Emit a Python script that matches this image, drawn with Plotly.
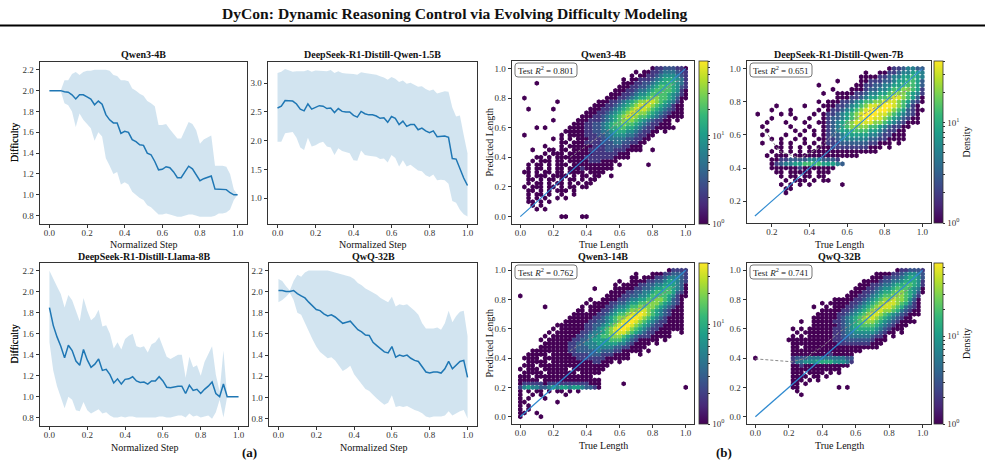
import math
import plotly.graph_objects as go

W, H = 985, 469
SERIF = "Liberation Serif, Times New Roman, serif"
BLUE = "#1f77b4"
BAND = "rgba(31,119,180,0.2)"


def px(x):
    return x / W


def py(y):
    return 1 - y / H


# ---------------- (a) difficulty curves ----------------
STEP = [round(i * 0.02, 2) for i in range(51)]

Q4_MEAN = [2.00, 2.00, 2.00, 2.00, 1.99, 1.985, 1.96, 1.92, 1.96, 1.96,
           1.94, 1.92, 1.865, 1.90, 1.87, 1.77, 1.72, 1.69, 1.69, 1.59,
           1.61, 1.60, 1.53, 1.51, 1.48, 1.475, 1.40, 1.385, 1.32, 1.24,
           1.245, 1.27, 1.26, 1.22, 1.165, 1.165, 1.22, 1.275, 1.25, 1.19,
           1.135, 1.155, 1.17, 1.18, 1.055, 1.055, 1.055, 1.05, 1.02, 1.00,
           1.00]
Q4_UP = [2.00, 2.00, 2.00, 2.00, 2.10, 2.10, 2.16, 2.18, 2.15, 2.18,
         2.19, 2.19, 2.20, 2.20, 2.20, 2.20, 2.19, 2.15, 2.14, 2.10,
         2.10, 2.09, 2.02, 2.00, 1.97, 1.95, 1.90, 1.88, 1.85, 1.67,
         1.67, 1.68, 1.63, 1.58, 1.54, 1.54, 1.62, 1.70, 1.68, 1.62,
         1.49, 1.53, 1.55, 1.57, 1.28, 1.28, 1.28, 1.27, 1.20, 1.05,
         1.00]
Q4_LO = [2.00, 2.00, 2.00, 2.00, 1.88, 1.86, 1.80, 1.65, 1.78, 1.72,
         1.68, 1.64, 1.52, 1.60, 1.56, 1.35, 1.28, 1.20, 1.22, 1.10,
         1.12, 1.10, 1.03, 1.00, 0.97, 0.95, 0.90, 0.88, 0.84, 0.81,
         0.81, 0.82, 0.81, 0.80, 0.79, 0.79, 0.80, 0.81, 0.81, 0.80,
         0.79, 0.79, 0.79, 0.79, 0.80, 0.82, 0.82, 0.83, 0.86, 0.95,
         1.00]

D15_MEAN = [2.57, 2.60, 2.70, 2.69, 2.69, 2.64, 2.55, 2.52, 2.64, 2.55,
            2.58, 2.61, 2.60, 2.56, 2.57, 2.49, 2.56, 2.51, 2.50, 2.50,
            2.44, 2.41, 2.51, 2.47, 2.45, 2.45, 2.43, 2.39, 2.40, 2.32,
            2.42, 2.39, 2.28, 2.34, 2.25, 2.28, 2.28, 2.19, 2.22, 2.17,
            2.14, 2.17, 2.07, 2.08, 2.08, 2.06, 1.69, 1.68, 1.50, 1.35,
            1.22]
D15_UP = [3.18, 3.20, 3.25, 3.22, 3.20, 3.21, 3.21, 3.21, 3.23, 3.20,
          3.22, 3.22, 3.22, 3.21, 3.23, 3.18, 3.21, 3.18, 3.17, 3.17,
          3.16, 3.15, 3.19, 3.18, 3.17, 3.16, 3.15, 3.12, 3.10, 3.06,
          3.11, 3.08, 3.02, 3.05, 2.99, 3.01, 2.98, 2.94, 2.95, 2.90,
          2.87, 2.89, 2.82, 2.84, 2.86, 2.85, 2.58, 2.42, 2.44, 2.10,
          1.78]
D15_LO = [1.98, 1.98, 2.13, 2.14, 2.15, 2.05, 1.88, 1.84, 2.05, 1.90,
          1.92, 1.96, 1.98, 1.90, 1.88, 1.75, 1.87, 1.82, 1.80, 1.78,
          1.66, 1.65, 1.83, 1.75, 1.74, 1.73, 1.72, 1.68, 1.69, 1.62,
          1.75, 1.70, 1.55, 1.66, 1.55, 1.58, 1.53, 1.48, 1.47, 1.40,
          1.37, 1.41, 1.31, 1.32, 1.31, 1.25, 0.95, 0.92, 0.80, 0.72,
          0.68]

L8_MEAN = [1.85, 1.68, 1.57, 1.48, 1.37, 1.49, 1.44, 1.34, 1.30, 1.45,
           1.35, 1.28, 1.31, 1.36, 1.25, 1.26, 1.21, 1.13, 1.17, 1.12,
           1.165, 1.17, 1.19, 1.15, 1.135, 1.14, 1.12, 1.15, 1.15, 1.19,
           1.15, 1.09, 1.085, 1.095, 1.10, 1.10, 1.03, 1.11, 1.06, 1.07,
           1.03, 1.07, 1.10, 1.14, 1.03, 1.00, 1.12, 1.00, 1.00, 1.00,
           1.00]
L8_UP = [2.20, 2.12, 2.05, 1.98, 1.85, 1.97, 1.92, 1.82, 1.72, 1.94,
         1.82, 1.73, 1.76, 1.83, 1.67, 1.68, 1.60, 1.46, 1.52, 1.45,
         1.55, 1.58, 1.60, 1.48, 1.47, 1.48, 1.42, 1.50, 1.52, 1.57,
         1.48, 1.38, 1.36, 1.38, 1.40, 1.40, 1.18, 1.38, 1.28, 1.30,
         1.20, 1.33, 1.40, 1.48, 1.21, 1.05, 1.44, 1.00, 1.00, 1.00,
         1.00]
L8_LO = [1.52, 1.25, 1.10, 1.00, 0.89, 1.00, 0.97, 0.87, 0.86, 0.95,
         0.87, 0.84, 0.86, 0.88, 0.84, 0.85, 0.82, 0.80, 0.80, 0.81,
         0.80, 0.81, 0.81, 0.80, 0.80, 0.80, 0.80, 0.80, 0.80, 0.81,
         0.81, 0.80, 0.80, 0.81, 0.82, 0.82, 0.80, 0.84, 0.81, 0.82,
         0.80, 0.81, 0.82, 0.79, 0.85, 0.97, 0.80, 1.00, 1.00, 1.00,
         1.00]

QWQ_MEAN = [2.01, 2.01, 2.00, 2.00, 2.01, 1.98, 1.96, 1.94, 1.90, 1.86,
            1.83, 1.82, 1.79, 1.77, 1.78, 1.76, 1.73, 1.70, 1.71, 1.72,
            1.68, 1.64, 1.62, 1.59, 1.585, 1.52, 1.49, 1.46, 1.43, 1.42,
            1.48, 1.38, 1.40, 1.39, 1.40, 1.37, 1.35, 1.34, 1.29, 1.24,
            1.23, 1.24, 1.24, 1.23, 1.27, 1.34, 1.27, 1.31, 1.34, 1.35,
            1.19]
QWQ_UP = [2.12, 2.10, 2.05, 2.01, 2.10, 2.16, 2.14, 2.18, 2.20, 2.20,
          2.20, 2.20, 2.20, 2.20, 2.19, 2.18, 2.17, 2.16, 2.15, 2.14,
          2.12, 2.08, 2.06, 2.03, 2.01, 1.99, 1.97, 1.94, 1.92, 1.90,
          1.95, 1.86, 1.88, 1.87, 1.88, 1.85, 1.82, 1.78, 1.70, 1.65,
          1.65, 1.65, 1.66, 1.64, 1.70, 1.82, 1.71, 1.77, 1.81, 1.82,
          1.58]
QWQ_LO = [1.90, 1.92, 1.95, 1.99, 1.92, 1.80, 1.78, 1.70, 1.62, 1.55,
          1.48, 1.43, 1.40, 1.37, 1.38, 1.35, 1.30, 1.25, 1.27, 1.30,
          1.22, 1.17, 1.12, 1.08, 1.06, 1.02, 0.99, 0.96, 0.93, 0.95,
          1.02, 0.91, 0.92, 0.91, 0.92, 0.90, 0.88, 0.87, 0.85, 0.82,
          0.81, 0.82, 0.82, 0.82, 0.83, 0.87, 0.83, 0.85, 0.87, 0.88,
          0.80]

# ---------------- (b) predicted vs true length (hexbin density read as grid) ----------------
# rows from y=1.000 down to y=0.000 (step 0.025), columns x=0.000..1.000 (step 0.025)
# '.' empty, digits = density level (see LEVEL_COUNTS)
LEVEL_COUNTS = [0, 1, 2, 3, 5, 8, 13, 20, 32, 50]
CELL = 0.025

GRID_Q4 = [
    "..........|..........|..........|..12233322|1",
    "..........|..........|........1.|1122344432|2",
    "..........|..........|.......1.1|1223455543|2",
    "..........|..........|.....1.112|2234566654|2",
    "....1.....|..........|.....11122|3345667654|2",
    "..........|..........|....111223|3456777653|2",
    "..........|..........|...1112234|4567777652|1",
    "..........|..........|..11122345|5677776542|1",
    ".1........|..........|.111223456|6788776531|1",
    ".........1|.........1|1122345678|8998765421|.",
    "..........|........11|1223456789|9987654211|.",
    "..1.....1.|.......111|2234567899|9876543211|.",
    "..........|......1112|2345678998|8765432111|.",
    "..........|.....11122|3456789987|7654321111|.",
    "........1.|....111222|3456788876|5432211.1.|.",
    "..........|...1112233|4567787765|4322111...|.",
    "....1.1...|..11112233|4566776654|32211111..|.",
    "..........|.111112233|4456665543|2211.1....|.",
    ".1........|1.11112223|3445554432|211.......|.",
    "........1.|1.1.111222|3344443322|11........|.",
    "..........|11.1112222|3334433221|1.........|.",
    "......1...|1.11111122|2333322111|..........|.",
    "...1...11.|11.1111222|2332221111|..1.......|.",
    "......1.11|1.11111122|2222111...|..........|.",
    "....11.1.1|1111112222|2221111...|..........|.",
    "...1.111.1|1.11111222|1111......|..........|.",
    "..1.11.1.1|11.1111111|111.1.....|.1........|.",
    "..1.11.1.1|1.11121111|111.......|..........|.",
    ".11.1.11.1|1.1111.111|1.........|..........|.",
    "..1.111.11|11.1.11.11|..1.......|..........|.",
    "..11.1.11.|1.11.1.11.|..........|..........|.",
    "..1.11.1.1|1.1.1.11..|..........|..........|.",
    ".1.111.11.|1.11.11...|..........|..........|.",
    "..11.1.1.1|11.1......|..........|..........|.",
    "..1.11.1..|1..1......|..........|..........|.",
    "..1.1.1..1|.1........|..........|..........|.",
    "..11.1.1..|..........|..........|..........|.",
    "...1.1....|..........|..........|..........|.",
    "....1.1...|..........|..........|..........|.",
    "..........|..........|..........|..........|.",
    "..........|11...11...|..........|..........|.",
]

GRID_D7 = [
    "..........|..........|..........|...1223443|3",
    "..........|..........|........1.|.112234455|4",
    "..........|..........|.......111|1223445565|4",
    "..........|..........|..1....112|2233455665|3",
    "..........|........1.|......1122|3344556665|3",
    "..........|..........|.1...11123|3445667765|2",
    "..........|.........1|..11112234|4556777654|2",
    "..........|..........|..11122345|5667887653|1",
    "..........|........1.|1112234566|7788876532|1",
    ".........1|.....1...1|1122345678|8899876421|.",
    "........1.|..1.....1.|1223456789|9998765321|1",
    ".....1....|1.1....1.1|2234567899|9887654321|.",
    "........1.|...1..1..1|2334567899|8876543211|.",
    ".......1..|.1...1..11|2345678888|7765432111|.",
    "......1...|..1...1..1|2345677776|65432211..|.",
    ".......1..|...1.1.1.1|2345566665|5432211...|.",
    "......1...|.1..1..1.1|2334555554|4322111...|.",
    "........1.|1..1.1..11|2234444443|3221111...|.",
    "......1...|1.1..1.1.1|2223333332|2111.1....|.",
    ".........1|1.1.1.1.11|1222222221|11.1......|.",
    "........1.|1.1.1.1111|1111111111|1.........|.",
    ".......1.1|11.1111111|1111111...|..........|.",
    "........11|2233334443|332.......|..........|.",
    "........12|3445566665|5543......|..........|.",
    "........11|1111211111|11........|..........|.",
    ".........1|1.11111.11|1.........|..........|.",
    "..........|1.11.11.11|..........|..........|.",
    "..........|.1.111.1.1|1.........|..........|.",
    "..........|1.1.1.1...|...1......|..........|.",
    "..........|.11.......|..........|..........|.",
    "..........|.1........|..........|..........|.",
]

GRID_Q14 = [
    "..........|..........|..........|......1222|2",
    "..........|..........|........1.|..11122333|2",
    "..........|..........|.......11.|1112234443|2",
    "..........|..........|....1..111|1223345543|2",
    "..........|..........|...1.11112|2334455543|1",
    "..........|........1.|...1111122|3345566543|1",
    "..........|..........|..11112233|4456666532|1",
    "1.........|..........|.111122334|4566665421|1",
    "..........|.......1..|1111223445|5667765321|.",
    "..........|......1.11|1122334556|6777654321|.",
    "......1...|.....1.111|1223445667|7776543211|.",
    "..........|....11.111|2234556778|8765432111|.",
    "..........|...1111112|2345667889|8765432111|.",
    "..........|..11111122|3456778998|7654321111|.",
    "..........|.111111223|3456789987|6543221111|.",
    ".........1|1111112233|4567899876|5432211111|.",
    "........1.|1111112234|5678998765|4322111111|.",
    ".......1.1|1111122344|5678887654|3221111..1|.",
    "......1.11|1111223445|6677765432|2211111...|.",
    ".....1.111|1112233455|5566654321|1111.1....|.",
    "......1111|1122334445|5555443211|11.1......|.",
    ".....11111|1122333444|4443322111|1.........|.",
    "...1111111|1122333334|3332211111|.1........|.",
    "..11111.11|1112222333|2221111..1|..........|.",
    ".1111.1111|1111222222|2111111...|..........|.",
    "..11111.11|1111111122|111.1.....|..........|.",
    ".111.11111|1111111111|11........|..........|.",
    "1.111.1111|11.1111111|1.........|..........|.",
    ".11111.111|1111.11111|..........|..........|.",
    "111.111111|11111111..|..........|..........|.",
    "11111.1111|1111111111|..........|..........|.",
    "1222221222|2222222111|.....1....|..........|.",
    "2454433454|5545543321|..........|..........|1",
    "1.1.11.1.1|1.1.1.....|..........|..........|.",
    "1..1.1....|.1........|..........|..........|.",
    "1.1...1...|..........|..........|..........|.",
    "11.......1|..........|..........|..........|.",
    "1.1.......|..........|..........|..........|.",
    "1.1.......|..........|..........|..........|.",
    "11..1.....|..........|..........|..........|.",
    "1....1....|..........|..........|..........|.",
]

GRID_QWQ = [
    "..........|..........|..........|....122333|2",
    "..........|..........|.........1|1112234554|3",
    "..........|..........|........11|1223345665|3",
    "..........|..........|......1111|2334456665|2",
    "..........|..........|.....11122|3445667765|2",
    "..........|..........|....111223|4556777654|1",
    "..........|..........|...1112234|5667887653|1",
    "..........|..........|..11122345|6778887642|.",
    "..........|.........1|1111223456|7889887531|.",
    "..........|......1.11|1112234567|8999876421|.",
    "..........|....1..1.1|1122345678|9998764321|.",
    "..........|......1111|1223456789|9887643211|.",
    "..........|.....11111|2234567899|8765432111|.",
    "..........|....111111|2345678998|76543211..|.",
    "..........|.1..111112|2345678887|654321111.|.",
    "..........|....111111|2345677776|5432111...|.",
    ".........1|.1.1111112|2345666665|432111....|.",
    "..........|1.11111112|2344555554|3211.1....|.",
    ".........1|.1.1111112|2334444432|21.1......|.",
    "........11|1111111112|2233333321|11........|.",
    ".........1|1111111111|2222222211|1.........|.",
    ".........1|1.11111111|1111111111|..........|.",
    ".........1|1111111111|111111....|..........|.",
    ".........1|1111111121|1111......|..........|.",
    "1........2|3334444444|4433......|..........|.",
    ".........2|4455566665|5542......|..........|.",
    ".........1|1211111111|111.......|..........|.",
    ".........1|1111111111|1.........|..........|.",
    ".........1|11.1111.1.|1.........|..........|.",
    ".........1|111.11.1..|..........|..........|.",
    ".........1|11.1.1....|..........|..........|.",
    ".........1|1.1.......|..........|..........|.",
    ".........1|1.........|1.1.......|..........|.",
    "..........|1.........|..........|..........|.",
    "..........|.1........|..........|..........|.",
]

R2_VALUES = ["0.801", "0.651", "0.762", "0.741"]

# gray dashed trend lines
TREND_Q4_X = [0.30, 0.97]
TREND_Q4_Y = [0.40, 0.93]
TREND_D7_X = [0.165, 0.24, 0.35, 0.45, 0.574, 0.95]
TREND_D7_Y = [0.625, 0.50, 0.46, 0.52, 0.654, 0.89]
TREND_Q14_X = [0.30, 0.95]
TREND_Q14_Y = [0.45, 0.90]
TREND_QWQ_X = [0.00, 0.22, 0.30, 0.40, 0.51, 0.94]
TREND_QWQ_Y = [0.395, 0.375, 0.40, 0.48, 0.585, 0.89]

# identity line extents
IDENT_Q4 = [0.0, 1.0]
IDENT_D7 = [0.11, 1.0]
IDENT_Q14 = [0.0, 1.0]
IDENT_QWQ = [0.0, 1.0]

# ---------------- layout geometry (pixels) ----------------
LINE_PANELS = [
    (1, "Qwen3-4B", (40, 247, 62, 224), [0.72, 2.275], [0.8, 1.0, 1.2, 1.4, 1.6, 1.8, 2.0, 2.2],
     Q4_MEAN, Q4_UP, Q4_LO),
    (2, "DeepSeek-R1-Distill-Qwen-1.5B", (268, 477, 62, 224), [0.55, 3.37], [1.0, 1.5, 2.0, 2.5, 3.0],
     D15_MEAN, D15_UP, D15_LO),
    (3, "DeepSeek-R1-Distill-Llama-8B", (40, 248, 263, 426), [0.72, 2.275], [0.8, 1.0, 1.2, 1.4, 1.6, 1.8, 2.0, 2.2],
     L8_MEAN, L8_UP, L8_LO),
    (4, "QwQ-32B", (269, 477, 263, 426), [0.73, 2.27], [0.8, 1.0, 1.2, 1.4, 1.6, 1.8, 2.0, 2.2],
     QWQ_MEAN, QWQ_UP, QWQ_LO),
]

SC_PANELS = [
    (5, "Qwen3-4B", (512, 694, 61, 224), [-0.05, 1.05], [0, 0.2, 0.4, 0.6, 0.8, 1.0], GRID_Q4, 1.85,
     R2_VALUES[0], TREND_Q4_X, TREND_Q4_Y, IDENT_Q4, False, (699, 708)),
    (6, "DeepSeek-R1-Distill-Qwen-7B", (747, 931, 61, 223), [0.068, 1.046], [0.2, 0.4, 0.6, 0.8, 1.0], GRID_D7, 1.61,
     R2_VALUES[1], TREND_D7_X, TREND_D7_Y, IDENT_D7, True, (934, 943)),
    (7, "Qwen3-14B", (512, 694, 263, 424), [-0.05, 1.05], [0, 0.2, 0.4, 0.6, 0.8, 1.0], GRID_Q14, 1.61,
     R2_VALUES[2], TREND_Q14_X, TREND_Q14_Y, IDENT_Q14, False, (699, 708)),
    (8, "QwQ-32B", (747, 931, 263, 424), [-0.05, 1.05], [0, 0.2, 0.4, 0.6, 0.8, 1.0], GRID_QWQ, 1.83,
     R2_VALUES[3], TREND_QWQ_X, TREND_QWQ_Y, IDENT_QWQ, True, (934, 943)),
]

fig = go.Figure()
annotations = []
shapes = []

AX_COMMON = dict(
    showline=True, mirror=True, linecolor="#333", linewidth=0.9,
    ticks="outside", ticklen=3.5, tickwidth=0.8, tickcolor="#333",
    showgrid=False, zeroline=False,
    tickfont=dict(family=SERIF, size=9, color="#333"),
)


def axis_names(k):
    s = "" if k == 1 else str(k)
    return "x" + s, "y" + s, "xaxis" + s, "yaxis" + s


def add_axes(k, box, xr, xt, yr, yt):
    l, r, t, b = box
    xa, ya, xk, yk = axis_names(k)
    fig.layout[xk] = dict(domain=[px(l), px(r)], anchor=ya, range=xr,
                          tickvals=xt, tickformat=".1f", ticklabelstandoff=-3, **AX_COMMON)
    fig.layout[yk] = dict(domain=[py(b), py(t)], anchor=xa, range=yr,
                          tickvals=yt, tickformat=".1f", **AX_COMMON)
    return xa, ya


def text(x, y, s, size=10, bold=False, angle=0, xanchor="center", yanchor="middle"):
    annotations.append(dict(
        x=px(x), y=py(y), xref="paper", yref="paper", text=("<b>%s</b>" % s) if bold else s,
        showarrow=False, textangle=angle, xanchor=xanchor, yanchor=yanchor,
        font=dict(family=SERIF, size=size, color="#111")))


def rounded_box(x0, y0, x1, y1, rad=3):
    def P(x, y):
        return "%.5f,%.5f" % (px(x), py(y))
    path = ("M " + P(x0 + rad, y0) + " L " + P(x1 - rad, y0) + " Q " + P(x1, y0) + " " + P(x1, y0 + rad) +
            " L " + P(x1, y1 - rad) + " Q " + P(x1, y1) + " " + P(x1 - rad, y1) +
            " L " + P(x0 + rad, y1) + " Q " + P(x0, y1) + " " + P(x0, y1 - rad) +
            " L " + P(x0, y0 + rad) + " Q " + P(x0, y0) + " " + P(x0 + rad, y0) + " Z")
    shapes.append(dict(type="path", xref="paper", yref="paper", path=path,
                       fillcolor="rgba(255,255,255,0.85)", line=dict(color="#777", width=1)))


# line panels
for k, title, box, yr, yt, mean, up, lo in LINE_PANELS:
    xa, ya = add_axes(k, box, [-0.05, 1.05], [0, 0.2, 0.4, 0.6, 0.8, 1.0], yr, yt)
    fig.add_trace(go.Scatter(x=STEP, y=up, mode="lines", line=dict(width=0), xaxis=xa, yaxis=ya,
                             showlegend=False, hoverinfo="skip"))
    fig.add_trace(go.Scatter(x=STEP, y=lo, mode="lines", line=dict(width=0), fill="tonexty",
                             fillcolor=BAND, xaxis=xa, yaxis=ya, showlegend=False, hoverinfo="skip"))
    fig.add_trace(go.Scatter(x=STEP, y=mean, mode="lines", line=dict(color=BLUE, width=1.5),
                             xaxis=xa, yaxis=ya, showlegend=False))
    l, r, t, b = box
    cx = (l + r) / 2
    text(cx, t - 7, title, size=10, bold=True)
    text(cx, b + 21, "Normalized Step", size=10)
    text(14, (t + b) / 2, "Difficulty", size=10, angle=-90)


def parse_grid(grid):
    xs, ys, lv = [], [], []
    for r, row in enumerate(grid):
        row = row.replace("|", "")
        row = (row + "." * 41)[:41]
        for i, ch in enumerate(row):
            if ch.isdigit() and ch != "0":
                xs.append(round(i * CELL, 4))
                ys.append(round(1 - r * CELL, 4))
                lv.append(int(ch))
    order = sorted(range(len(lv)), key=lambda j: lv[j])
    return [xs[j] for j in order], [ys[j] for j in order], [lv[j] for j in order]


for (k, title, box, rng, ticks, grid, cmax, r2, tx, ty, ident, cb_title, cbx) in SC_PANELS:
    xa, ya = add_axes(k, box, rng, ticks, rng, ticks)
    l, r, t, b = box
    xs, ys, lv = parse_grid(grid)
    colors = [math.log10(LEVEL_COUNTS[v]) for v in lv]
    minor = [math.log10(m * d) for d in (1, 10) for m in range(1, 10) if math.log10(m * d) <= cmax + 1e-9]
    ticktext = []
    for v in minor:
        if abs(v) < 1e-9:
            ticktext.append("10<sup>0</sup>")
        elif abs(v - 1) < 1e-9:
            ticktext.append("10<sup>1</sup>")
        else:
            ticktext.append("")
    cbar = dict(
        x=px(cbx[0]), xanchor="left", xpad=0, ypad=0,
        y=py((t + b) / 2), yanchor="middle", len=(b - t) / H, lenmode="fraction",
        thickness=cbx[1] - cbx[0], thicknessmode="pixels",
        outlinewidth=0.8, outlinecolor="#333",
        tickmode="array", tickvals=minor, ticktext=ticktext,
        ticks="outside", ticklen=2.5, tickwidth=0.6, tickcolor="#333",
        tickfont=dict(family=SERIF, size=9, color="#333"),
    )
    if cb_title:
        cbar["title"] = dict(text="Density", side="right", font=dict(family=SERIF, size=10, color="#111"))
    fig.add_trace(go.Scatter(
        x=xs, y=ys, mode="markers", xaxis=xa, yaxis=ya, showlegend=False, hoverinfo="skip",
        marker=dict(symbol="hexagon", size=5.2, color=colors, colorscale="Viridis",
                    cmin=0, cmax=cmax, line=dict(width=0), showscale=True, colorbar=cbar)))
    fig.add_trace(go.Scatter(x=ident, y=ident, mode="lines", line=dict(color="#2f8ad0", width=1.2),
                             xaxis=xa, yaxis=ya, showlegend=False, hoverinfo="skip"))
    fig.add_trace(go.Scatter(x=tx, y=ty, mode="lines", line=dict(color="#8a8a8a", width=1, dash="3px,2px"),
                             xaxis=xa, yaxis=ya, showlegend=False, hoverinfo="skip"))
    cx = (l + r) / 2
    text(cx, t - 7, title, size=10, bold=True)
    text(cx, b + 21, "True Length", size=10)
    if l < 600:
        text(489, (t + b) / 2, "Predicted Length", size=10, angle=-90)
    bx0, by0 = l + 3, t + 2
    rounded_box(bx0, by0, bx0 + 62, by0 + 14)
    annotations.append(dict(
        x=px(bx0 + 31), y=py(by0 + 7), xref="paper", yref="paper", xanchor="center", yanchor="middle",
        text="Test <i>R</i><sup>2</sup> = %s" % r2, showarrow=False,
        font=dict(family=SERIF, size=9, color="#222")))

# figure-level texts
text(455, 13, "DyCon: Dynamic Reasoning Control via Evolving Difficulty Modeling", size=15.6, bold=True)
text(250, 452, "(a)", size=13, bold=True)
text(724, 452, "(b)", size=13, bold=True)

shapes.append(dict(type="line", xref="paper", yref="paper", x0=0, x1=1, y0=py(25.5), y1=py(25.5),
                   line=dict(color="black", width=2)))

fig.update_layout(
    width=W, height=H, margin=dict(l=0, r=0, t=0, b=0),
    paper_bgcolor="white", plot_bgcolor="white",
    annotations=annotations,
    shapes=shapes,
    font=dict(family=SERIF),
)

fig.write_html("out.html")
